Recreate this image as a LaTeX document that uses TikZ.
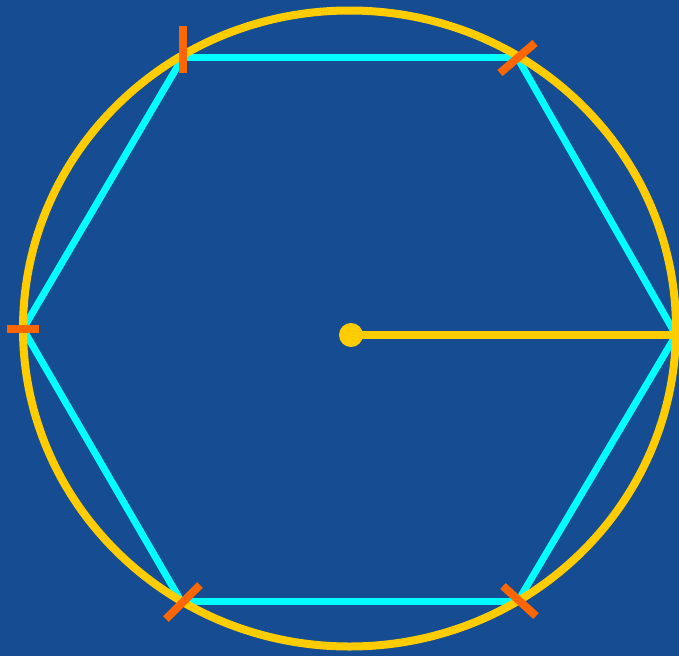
\documentclass[tikz,border=0pt]{standalone}
\definecolor{bgblue}{RGB}{22,76,146}
\definecolor{ringyellow}{RGB}{255,204,0}
\definecolor{hexcyan}{RGB}{0,255,255}
\definecolor{tickorange}{RGB}{255,102,0}

\begin{document}
\begin{tikzpicture}[x=1pt,y=-1pt,
    ring/.style={draw=ringyellow,line width=8pt},
    side/.style={draw=hexcyan,line width=7pt},
    tickmark/.style={draw=tickorange,line width=8pt},
    corner/.style={coordinate}]
    \fill[bgblue] (0,0) rectangle (679,656);
    \useasboundingbox (0,0) rectangle (679,656);

    % Vertices
      \node[corner] (o)  at (351,335) {};
      \node[corner] (tl) at (183,57)  {};
      \node[corner] (tr) at (517,57)  {};
      \node[corner] (r)  at (676,335) {};
      \node[corner] (br) at (518,601) {};
      \node[corner] (bl) at (181,601) {};
      \node[corner] (l)  at (23,329)  {};

      % Edges
      \draw[side] (tl) -- (tr);
      \draw[side] (tr) -- (r);
      \draw[side] (r) -- (br);
      \draw[side] (br) -- (bl);
      \draw[side] (bl) -- (l);
      \draw[side] (l) -- (tl);

      % Circle and radius
      \draw[ring] (349.5,328.5) ellipse [x radius=326.5, y radius=318];
      \draw[ring] (o) -- (r);
      \fill[ringyellow] (o) circle [radius=12];

      % Ticks
      \draw[tickmark] (tl) ++(0,-31) -- ++(0,47);
      \draw[tickmark] (tr) ++(-17,16) -- ++(35,-30);
      \draw[tickmark] (l)  ++(-16,0) -- ++(32,0);
      \draw[tickmark] (bl) ++(-15,18) -- ++(34,-34);
      \draw[tickmark] (br) ++(-15,-15) -- ++(33,30);
  \end{tikzpicture}
\end{document}
